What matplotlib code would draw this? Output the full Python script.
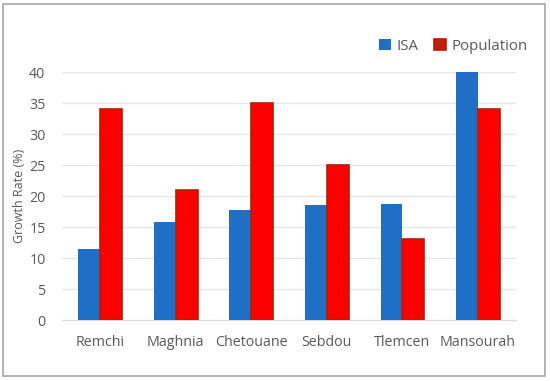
import numpy as np
import matplotlib
matplotlib.use("Agg")
import matplotlib.pyplot as plt
from matplotlib.patches import Rectangle

plt.rcParams['font.family'] = ['Open Sans', 'DejaVu Sans']

cities = ["Remchi", "Maghnia", "Chetouane", "Sebdou", "Tlemcen", "Mansourah"]
isa = [11.5, 15.8, 17.8, 18.6, 18.7, 40.0]
population = [34.0, 21.0, 35.0, 25.0, 13.0, 34.0]
yticks = [0, 5, 10, 15, 20, 25, 30, 35, 40]

blue = "#1F6FC6"
red = "#FF0000"
grey_text = "#595959"

fig = plt.figure(figsize=(5.5, 3.81), dpi=100)
ax = fig.add_axes([0.113, 0.160, 0.825, 0.651])

x = np.arange(len(cities))
w = 0.29
ax.bar(x - w / 2, isa, w, color=blue, label="ISA", zorder=3)
ax.bar(x + w / 2, population, w, color=red, edgecolor="#B22000", linewidth=1.2,
       label="Population", zorder=3)

ax.set_xlim(-0.5, len(cities) - 0.5)
ax.set_ylim(0, 40)
ax.set_yticks(yticks)
ax.set_xticks(x)
ax.set_xticklabels(cities)
ax.tick_params(axis="x", length=0, labelsize=10.3, colors=grey_text, pad=11)
ax.tick_params(axis="y", length=0, labelsize=10.3, colors=grey_text, pad=12)
ax.set_ylabel("Growth Rate (%)", fontsize=9, color=grey_text, labelpad=2)
ax.grid(axis="y", color="#E6E6E6", linewidth=1, zorder=0)
for side in ["top", "right", "left"]:
    ax.spines[side].set_visible(False)
ax.spines["bottom"].set_color("#D9D9D9")

leg = ax.legend(loc="lower right", bbox_to_anchor=(1.04, 1.05), ncol=2, frameon=False,
                fontsize=10.8, handlelength=0.8, handleheight=0.8, handletextpad=0.4,
                columnspacing=1.0, borderaxespad=0)
for t in leg.get_texts():
    t.set_color(grey_text)
leg.legend_handles[1].set_facecolor("#C0200A")

fig.patches.append(Rectangle((0.006, 0.014), 0.985, 0.975, transform=fig.transFigure,
                             fill=False, edgecolor="#A6A6A6", linewidth=1.2))

fig.savefig("out.png", dpi=100)
